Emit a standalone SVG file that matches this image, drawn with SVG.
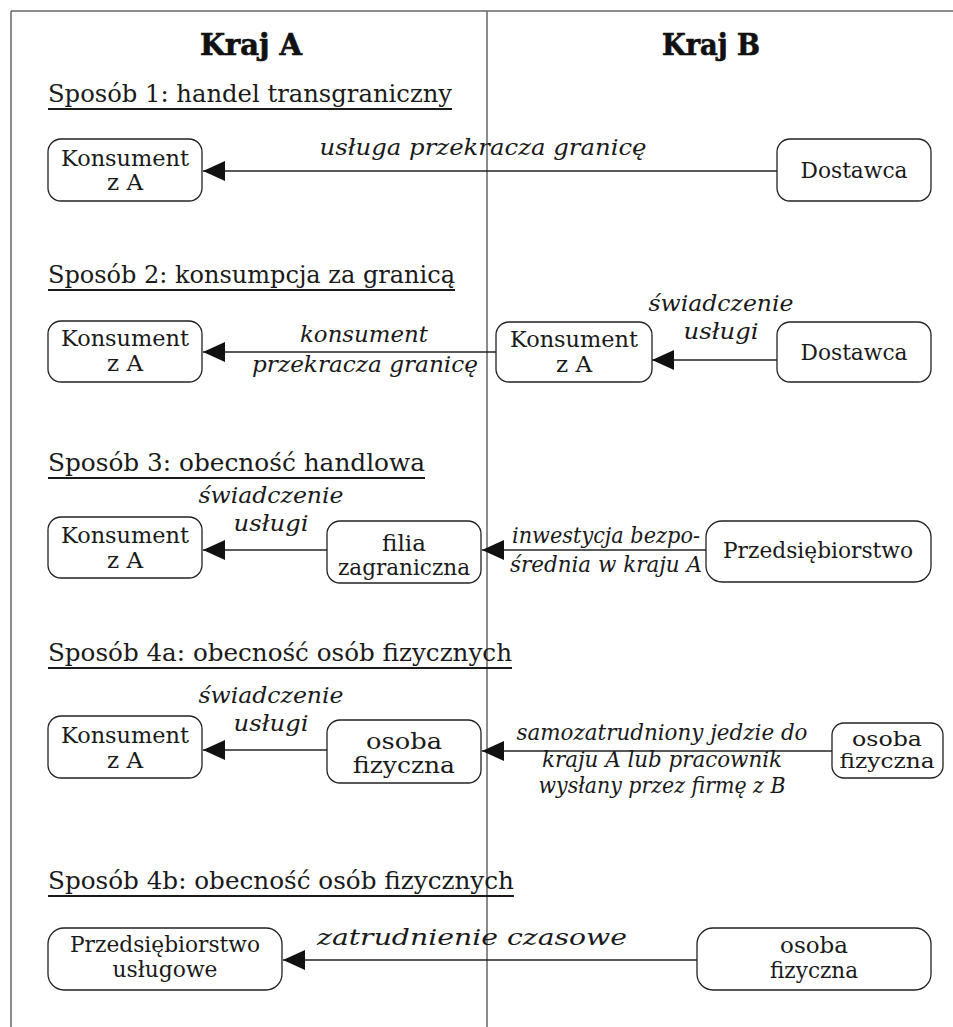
<svg xmlns="http://www.w3.org/2000/svg" width="953" height="1027" viewBox="0 0 953 1027">
<style>
  text{font-family:"DejaVu Serif","Liberation Serif",serif}
  .frame{stroke:#666;stroke-width:1.5;fill:none}
  .box{fill:#fff;stroke:#222;stroke-width:1.3}
  .t{font-size:23px;fill:#1a1a1a;text-anchor:middle}
  .s{font-size:21px}
  .lbl{font-size:23px;font-style:italic;fill:#1a1a1a;text-anchor:middle}
  .title{font-size:24px;fill:#1a1a1a}
  .ul{stroke:#1a1a1a;stroke-width:1.8}
  .head{font-size:29px;font-weight:bold;fill:#111;stroke:#111;stroke-width:0.7;text-anchor:middle}
  .edge{stroke:#222;stroke-width:1.5;fill:none;marker-end:url(#ah)}
</style>
<defs>
  <marker id="ah" markerUnits="userSpaceOnUse" markerWidth="22" markerHeight="20" refX="22" refY="10" orient="auto">
    <path d="M0,0 L22,10 L0,20 z" fill="#111"/>
  </marker>
</defs>
<rect width="953" height="1027" fill="#fff"/>
<g id="frame">
  <line class="frame" x1="11" y1="11" x2="953" y2="11"/>
  <line class="frame" x1="11" y1="11" x2="11" y2="1027"/>
  <line class="frame" x1="487" y1="11" x2="487" y2="1027"/>
</g>
<g id="headings">
  <text class="head" x="251" y="55" textLength="102" lengthAdjust="spacingAndGlyphs">Kraj A</text>
  <text class="head" x="711" y="55" textLength="98" lengthAdjust="spacingAndGlyphs">Kraj B</text>
</g>
<g id="titles">
  <text class="title" x="48" y="102" textLength="404" lengthAdjust="spacingAndGlyphs">Sposób 1: handel transgraniczny</text>
  <line class="ul" x1="48" y1="109" x2="452" y2="109"/>
  <text class="title" x="48" y="283" textLength="407" lengthAdjust="spacingAndGlyphs">Sposób 2: konsumpcja za granicą</text>
  <line class="ul" x1="48" y1="290" x2="455" y2="290"/>
  <text class="title" x="48" y="471" textLength="377" lengthAdjust="spacingAndGlyphs">Sposób 3: obecność handlowa</text>
  <line class="ul" x1="48" y1="478" x2="425" y2="478"/>
  <text class="title" x="48" y="661" textLength="464" lengthAdjust="spacingAndGlyphs">Sposób 4a: obecność osób fizycznych</text>
  <line class="ul" x1="48" y1="668" x2="512" y2="668"/>
  <text class="title" x="48" y="889" textLength="466" lengthAdjust="spacingAndGlyphs">Sposób 4b: obecność osób fizycznych</text>
  <line class="ul" x1="48" y1="896" x2="514" y2="896"/>
</g>
<g id="connectors">
  <line class="edge" x1="777" y1="171" x2="203" y2="171"/>
  <line class="edge" x1="496" y1="352" x2="203" y2="352"/>
  <line class="edge" x1="777" y1="360" x2="652" y2="360"/>
  <line class="edge" x1="327" y1="550" x2="203" y2="550"/>
  <line class="edge" x1="706" y1="550" x2="482" y2="550"/>
  <line class="edge" x1="327" y1="750" x2="203" y2="750"/>
  <line class="edge" x1="832" y1="751" x2="482" y2="751"/>
  <line class="edge" x1="697" y1="960" x2="283" y2="960"/>
</g>
<g id="edge-labels">
  <text class="lbl" x="483" y="155" textLength="327" lengthAdjust="spacingAndGlyphs">usługa przekracza granicę</text>
  <text class="lbl" x="364" y="342" textLength="128" lengthAdjust="spacingAndGlyphs">konsument</text>
  <text class="lbl" x="365" y="372" textLength="226" lengthAdjust="spacingAndGlyphs">przekracza granicę</text>
  <text class="lbl" x="721" y="311" textLength="145" lengthAdjust="spacingAndGlyphs">świadczenie</text>
  <text class="lbl" x="721" y="339" textLength="75" lengthAdjust="spacingAndGlyphs">usługi</text>
  <text class="lbl" x="271" y="503" textLength="145" lengthAdjust="spacingAndGlyphs">świadczenie</text>
  <text class="lbl" x="271" y="531" textLength="75" lengthAdjust="spacingAndGlyphs">usługi</text>
  <text class="lbl" x="606" y="543" textLength="188" lengthAdjust="spacingAndGlyphs">inwestycja bezpo-</text>
  <text class="lbl" x="606" y="572" textLength="192" lengthAdjust="spacingAndGlyphs">średnia w kraju A</text>
  <text class="lbl" x="271" y="703" textLength="145" lengthAdjust="spacingAndGlyphs">świadczenie</text>
  <text class="lbl" x="271" y="731" textLength="75" lengthAdjust="spacingAndGlyphs">usługi</text>
  <text class="lbl" x="662" y="740" textLength="291" lengthAdjust="spacingAndGlyphs">samozatrudniony jedzie do</text>
  <text class="lbl" x="662" y="767" textLength="240" lengthAdjust="spacingAndGlyphs">kraju A lub pracownik</text>
  <text class="lbl" x="662" y="793" textLength="247" lengthAdjust="spacingAndGlyphs">wysłany przez firmę z B</text>
  <text class="lbl" x="472" y="945" textLength="310" lengthAdjust="spacingAndGlyphs">zatrudnienie czasowe</text>
</g>
<g id="n1-konsument">
  <rect class="box" x="48" y="139" width="154" height="62" rx="13"/>
  <text class="t" x="125" y="166" textLength="128" lengthAdjust="spacingAndGlyphs">Konsument</text>
  <text class="t" x="125" y="190">z A</text>
</g>
<g id="n1-dostawca">
  <rect class="box" x="777" y="139" width="154" height="62" rx="13"/>
  <text class="t" x="854" y="178" textLength="107" lengthAdjust="spacingAndGlyphs">Dostawca</text>
</g>
<g id="n2-konsument-a">
  <rect class="box" x="48" y="321" width="154" height="61" rx="13"/>
  <text class="t" x="125" y="346" textLength="128" lengthAdjust="spacingAndGlyphs">Konsument</text>
  <text class="t" x="125" y="371">z A</text>
</g>
<g id="n2-konsument-b">
  <rect class="box" x="496" y="322" width="156" height="60" rx="13"/>
  <text class="t" x="574" y="347" textLength="128" lengthAdjust="spacingAndGlyphs">Konsument</text>
  <text class="t" x="574" y="372">z A</text>
</g>
<g id="n2-dostawca">
  <rect class="box" x="777" y="322" width="154" height="60" rx="13"/>
  <text class="t" x="854" y="360" textLength="107" lengthAdjust="spacingAndGlyphs">Dostawca</text>
</g>
<g id="n3-konsument">
  <rect class="box" x="48" y="517" width="154" height="61" rx="13"/>
  <text class="t" x="125" y="543" textLength="128" lengthAdjust="spacingAndGlyphs">Konsument</text>
  <text class="t" x="125" y="568">z A</text>
</g>
<g id="n3-filia">
  <rect class="box" x="327" y="521" width="154" height="62" rx="13"/>
  <text class="t" x="404" y="551">filia</text>
  <text class="t" x="404" y="575" textLength="132" lengthAdjust="spacingAndGlyphs">zagraniczna</text>
</g>
<g id="n3-przedsiebiorstwo">
  <rect class="box" x="706" y="521" width="225" height="61" rx="16"/>
  <text class="t" x="818" y="558" textLength="190" lengthAdjust="spacingAndGlyphs">Przedsiębiorstwo</text>
</g>
<g id="n4-konsument">
  <rect class="box" x="48" y="716" width="154" height="62" rx="13"/>
  <text class="t" x="125" y="743" textLength="128" lengthAdjust="spacingAndGlyphs">Konsument</text>
  <text class="t" x="125" y="768">z A</text>
</g>
<g id="n4-osoba-a">
  <rect class="box" x="327" y="720" width="154" height="63" rx="13"/>
  <text class="t" x="404" y="749" textLength="76" lengthAdjust="spacingAndGlyphs">osoba</text>
  <text class="t" x="404" y="773" textLength="102" lengthAdjust="spacingAndGlyphs">fizyczna</text>
</g>
<g id="n4-osoba-b">
  <rect class="box" x="832" y="723" width="111" height="55" rx="12"/>
  <text class="t s" x="887" y="746" textLength="70" lengthAdjust="spacingAndGlyphs">osoba</text>
  <text class="t s" x="887" y="768" textLength="95" lengthAdjust="spacingAndGlyphs">fizyczna</text>
</g>
<g id="n5-przedsiebiorstwo">
  <rect class="box" x="48" y="928" width="234" height="62" rx="16"/>
  <text class="t" x="165" y="952" textLength="190" lengthAdjust="spacingAndGlyphs">Przedsiębiorstwo</text>
  <text class="t" x="165" y="977" textLength="105" lengthAdjust="spacingAndGlyphs">usługowe</text>
</g>
<g id="n5-osoba">
  <rect class="box" x="697" y="928" width="234" height="62" rx="16"/>
  <text class="t" x="814" y="953">osoba</text>
  <text class="t" x="814" y="978" textLength="88" lengthAdjust="spacingAndGlyphs">fizyczna</text>
</g>
</svg>
